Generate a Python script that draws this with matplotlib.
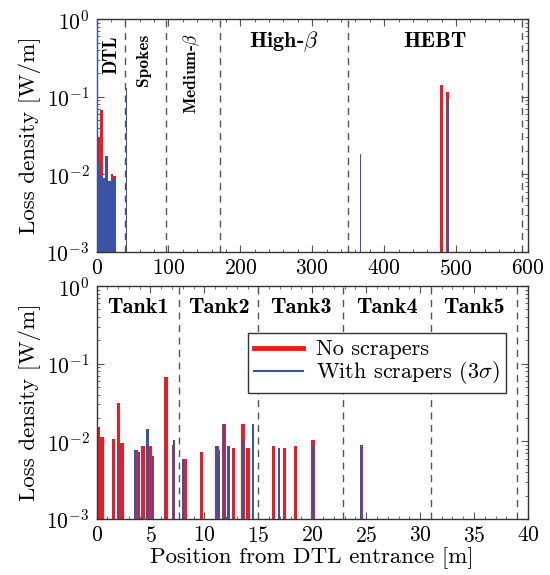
import numpy as np
import matplotlib
matplotlib.use("Agg")
import matplotlib.pyplot as plt
from matplotlib.lines import Line2D
from matplotlib.ticker import LogLocator, MultipleLocator, NullFormatter

plt.rcParams['font.family'] = 'serif'
plt.rcParams['font.serif'] = ['cmr10']
plt.rcParams['mathtext.fontset'] = 'cm'
plt.rcParams['axes.unicode_minus'] = False
plt.rcParams['axes.formatter.use_mathtext'] = True

RED = '#ED1C24'
BLUE = '#3A53A4'

# --- Top panel: whole linac (m) ---
dtl_bin_x = [3.0, 6.7, 10.4, 14.1, 17.8, 21.5, 25.2]
dtl_bin_red = [0.030, 0.068, 0.0088, 0.012, 0.0080, 0.010, 0.0095]
dtl_bin_blue = [0.0145, 0.0096, 0.0090, 0.017, 0.0081, 0.0087, 0.0089]

top_red_x = [479.5, 488.5]
top_red_val = [0.14, 0.116]
top_blue_x = [0.6, 42.0, 367.0, 489.0]
top_blue_val = [1.0, 0.13, 0.018, 0.093]

sections_end = [39, 96, 172, 350, 592]

# --- Bottom panel: DTL detail (m) ---
red_x = [0.17, 0.5, 1.58, 2.05, 2.34, 3.7, 4.31, 4.71, 4.96, 5.2, 6.45, 7.15,
         8.26, 9.75, 11.18, 11.8, 12.7, 13.6, 14.05, 16.4, 17.42, 18.45, 20.05, 24.55]
red_val = [0.0154, 0.0113, 0.0107, 0.031, 0.0094, 0.0077, 0.0087, 0.0058, 0.0085,
           0.0063, 0.068, 0.0089, 0.0058, 0.0073, 0.0087, 0.0166, 0.0082, 0.0164,
           0.0081, 0.0087, 0.0080, 0.0085, 0.0103, 0.0089]
blue_x = [2.0, 3.6, 3.97, 4.73, 5.2, 7.15, 8.03, 11.18, 11.37, 11.8, 12.23, 13.6,
          14.5, 16.95, 20.05, 24.55]
blue_val = [0.0085, 0.0077, 0.0071, 0.0145, 0.0063, 0.0104, 0.0059, 0.0087, 0.0077,
            0.0166, 0.0087, 0.0103, 0.0166, 0.0081, 0.0090, 0.0089]

tank_ends = [7.65, 14.98, 22.85, 31.0, 39.0]
tank_names = ['Tank1', 'Tank2', 'Tank3', 'Tank4', 'Tank5']

fig = plt.figure(figsize=(5.5, 5.75), dpi=100)
ax1 = fig.add_axes([0.1755, 0.5617, 0.7845, 0.405])
ax2 = fig.add_axes([0.1755, 0.0974, 0.7845, 0.405])


def style(ax):
    ax.set_yscale('log')
    ax.set_ylim(1e-3, 1)
    ax.yaxis.set_major_locator(LogLocator(base=10, numticks=10))
    ax.yaxis.set_minor_locator(LogLocator(base=10, subs=np.arange(2, 10), numticks=10))
    ax.yaxis.set_minor_formatter(NullFormatter())
    ax.tick_params(which='both', direction='in', top=True, right=True,
                   labelsize=15.5, color='#555555')
    ax.tick_params(which='major', length=5, width=0.8, pad=5)
    ax.tick_params(which='minor', length=2.5, width=0.6)
    for s in ax.spines.values():
        s.set_color('#333333')
        s.set_linewidth(1.0)
    ax.set_ylabel('Loss density [W/m]', fontsize=16.5, labelpad=4)


# top panel
for x in sections_end:
    ax1.axvline(x, color='#555555', lw=1.0, ls=(0, (5, 4)), zorder=1)
ax1.bar(dtl_bin_x, dtl_bin_red, width=3.7, color=RED, bottom=1e-4, zorder=2)
ax1.bar(dtl_bin_x, dtl_bin_blue, width=3.7, color=BLUE, bottom=1e-4, zorder=3)
ax1.bar(top_red_x, top_red_val, width=4.0, color=RED, bottom=1e-4, zorder=2)
ax1.bar(top_blue_x, top_blue_val, width=2.0, color=BLUE, bottom=1e-4, zorder=3)
ax1.set_xlim(0, 600)
ax1.xaxis.set_major_locator(MultipleLocator(100))
ax1.xaxis.set_minor_locator(MultipleLocator(20))
style(ax1)

tr = ax1.get_xaxis_transform()
ax1.text(20, 0.845, 'DTL', family='cmb10', fontsize=13.5, rotation=90,
         ha='center', va='center', transform=tr)
ax1.text(66, 0.825, 'Spokes', family='cmb10', fontsize=12.5, rotation=90,
         ha='center', va='center', transform=tr)
ax1.text(133, 0.765, r'Medium-$\beta$', family='cmb10', fontsize=12.5, rotation=90,
         ha='center', va='center', transform=tr)
ax1.text(261, 0.905, r'High-$\beta$', family='cmb10', fontsize=16,
         ha='center', va='center', transform=tr)
ax1.text(471, 0.905, 'HEBT', family='cmb10', fontsize=16,
         ha='center', va='center', transform=tr)

# bottom panel
for x in tank_ends:
    ax2.axvline(x, color='#555555', lw=1.0, ls=(0, (5, 4)), zorder=1)
ax2.bar(red_x, red_val, width=0.33, color=RED, bottom=1e-4, zorder=2)
ax2.bar(blue_x, blue_val, width=0.2, color=BLUE, bottom=1e-4, zorder=3)
ax2.set_xlim(0, 40)
ax2.xaxis.set_major_locator(MultipleLocator(5))
ax2.xaxis.set_minor_locator(MultipleLocator(1))
style(ax2)
ax2.set_xlabel('Position from DTL entrance [m]', fontsize=16.5, labelpad=1)

tr2 = ax2.get_xaxis_transform()
starts = [0] + tank_ends[:-1]
for s, e, name in zip(starts, tank_ends, tank_names):
    ax2.text((s + e) / 2, 0.91, name, family='cmb10', fontsize=16,
             ha='center', va='center', transform=tr2)

handles = [Line2D([], [], color=RED, lw=3.5), Line2D([], [], color=BLUE, lw=1.5)]
leg = ax2.legend(handles, ['No scrapers', r'With scrapers (3$\sigma$)'],
                 loc='upper right', bbox_to_anchor=(0.949, 0.798),
                 borderaxespad=0, fontsize=16, fancybox=False, framealpha=1,
                 edgecolor='#333333', handlelength=2.2, borderpad=0.3,
                 labelspacing=0.0, handletextpad=0.55)
leg.get_frame().set_linewidth(1.0)
leg.set_zorder(5)

fig.savefig('out.png', dpi=100)
